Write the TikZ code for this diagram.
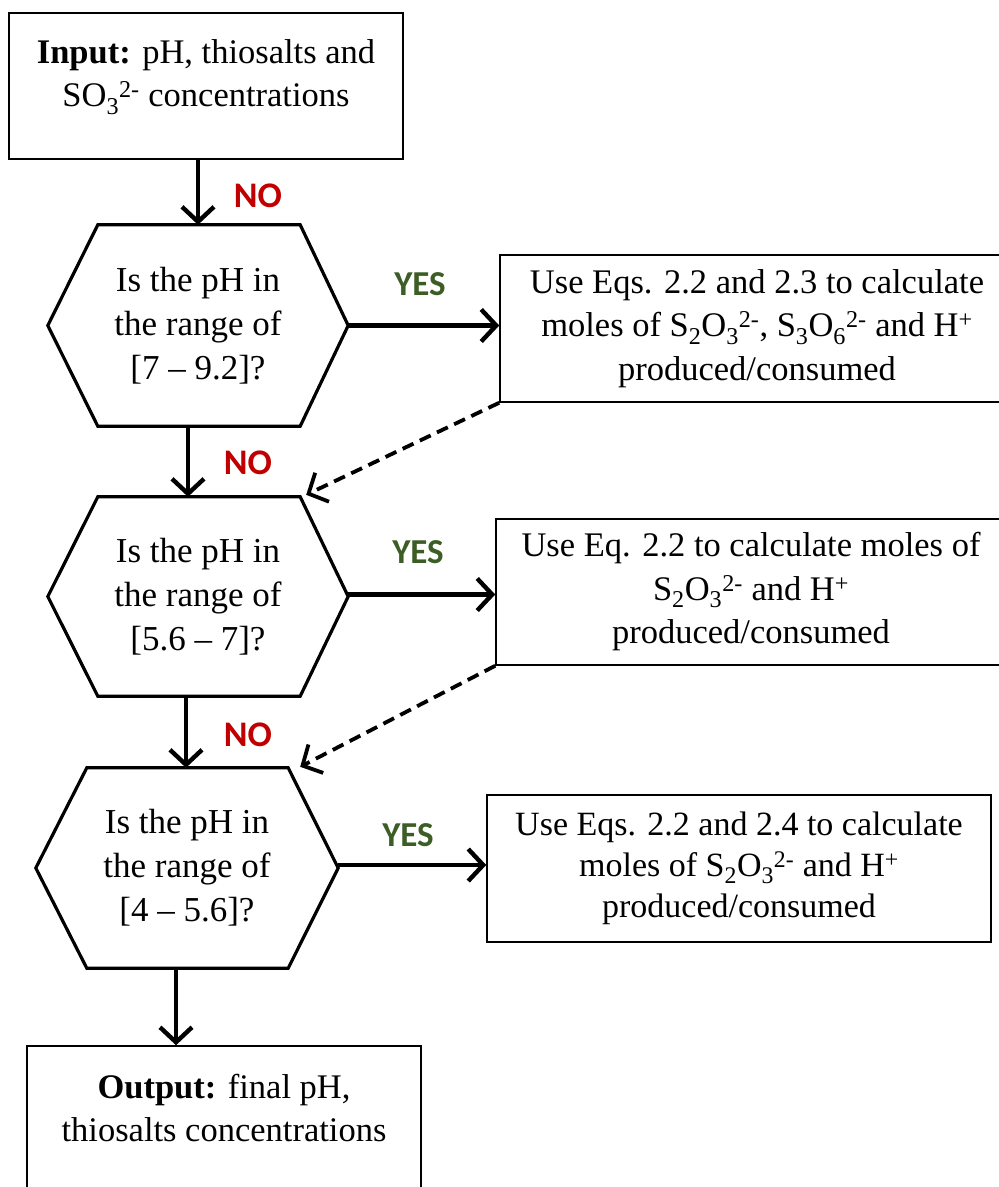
\documentclass[tikz,border=0pt]{standalone}
\usepackage{fontspec}
\setmainfont{Liberation Serif}
\newfontfamily\lblfont{Carlito}
\usetikzlibrary{arrows.meta,calc}
\definecolor{nored}{RGB}{192,0,0}
\definecolor{yesgreen}{RGB}{60,94,38}
\tikzset{
  boxnode/.style={draw=black, line width=1.5pt, inner sep=0pt},
  txt/.style={align=center, inner sep=0pt, font=\fontsize{34.5}{43.5}\selectfont},
  hexnode/.style={inner sep=0pt, align=center, font=\fontsize{35}{44}\selectfont},
  hexline/.style={draw=black, line width=3.2pt, line join=miter},
  arr/.style={line width=4.4pt, -{Straight Barb[length=15pt,width=32pt]}},
  darr/.style={line width=3.8pt, dash pattern=on 12pt off 7pt, -{Straight Barb[length=15pt,width=32pt]}},
  nolbl/.style={text=nored, font=\lblfont\bfseries\fontsize{36}{36}\selectfont},
  yeslbl/.style={text=yesgreen, font=\lblfont\bfseries\fontsize{35}{35}\selectfont}
}
\begin{document}
\begin{tikzpicture}[x=1pt,y=-1pt]
\clip (0,0) rectangle (999,1187);
\fill[white] (0,0) rectangle (999,1187);

% input / output boxes
\node[boxnode, minimum width=394pt, minimum height=146pt] (inp) at (206,86) {};
\node[txt] (inptxt) at (206,77) {\textbf{Input:} pH, thiosalts and\\SO\textsubscript{3}\textsuperscript{2-} concentrations};

\node[boxnode, minimum width=394pt, minimum height=146pt] (out) at (224,1119) {};
\node[txt] (outtxt) at (224,1108) {\textbf{Output:} final pH,\\thiosalts concentrations};

% hexagons
\node[hexnode, minimum width=300pt, minimum height=201pt] (h1) at (198,325.5) {Is the pH in\\the range of\\{[}7 – 9.2]?};
\draw[hexline] (h1.west) -- ([xshift=50pt]h1.north west) -- ([xshift=-48pt]h1.north east) -- (h1.east) -- ([xshift=-48pt]h1.south east) -- ([xshift=50pt]h1.south west) -- cycle;

\node[hexnode, minimum width=300pt, minimum height=199pt] (h2) at (198,596.5) {Is the pH in\\the range of\\{[}5.6 – 7]?};
\draw[hexline] (h2.west) -- ([xshift=50pt]h2.north west) -- ([xshift=-48pt]h2.north east) -- (h2.east) -- ([xshift=-48pt]h2.south east) -- ([xshift=50pt]h2.south west) -- cycle;

\node[hexnode, minimum width=302pt, minimum height=200pt] (h3) at (187,868) {Is the pH in\\the range of\\{[}4 – 5.6]?};
\draw[hexline] (h3.west) -- ([xshift=51pt]h3.north west) -- ([xshift=-50pt]h3.north east) -- (h3.east) -- ([xshift=-50pt]h3.south east) -- ([xshift=51pt]h3.south west) -- cycle;

% action boxes
\node[boxnode, txt, minimum width=514pt, minimum height=147pt] (b1) at (757,328.5) {Use Eqs. 2.2 and 2.3 to calculate\\moles of S\textsubscript{2}O\textsubscript{3}\textsuperscript{2-}, S\textsubscript{3}O\textsubscript{6}\textsuperscript{2-} and H\textsuperscript{+}\\produced/consumed};
\node[boxnode, txt, minimum width=510pt, minimum height=146pt] (b2) at (751,592) {Use Eq. 2.2 to calculate moles of\\S\textsubscript{2}O\textsubscript{3}\textsuperscript{2-} and H\textsuperscript{+}\\produced/consumed};
\node[boxnode, txt, minimum width=504pt, minimum height=147pt, font=\fontsize{34}{41}\selectfont] (b3) at (739,868.5) {Use Eqs. 2.2 and 2.4 to calculate\\moles of S\textsubscript{2}O\textsubscript{3}\textsuperscript{2-} and H\textsuperscript{+}\\produced/consumed};

% NO arrows
\draw[arr] (inp.south -| h1.north) -- (h1.north);
\draw[arr] ([xshift=-10pt]h1.south) -- ([xshift=-10pt]h1.south |- h2.north);
\draw[arr] ([xshift=-12pt]h2.south) -- ([xshift=-12pt]h2.south |- h3.north);
\draw[arr] ([xshift=-11pt]h3.south) -- ([xshift=-11pt]h3.south |- out.north);

\node[nolbl] (no1) at (258,196) {NO};
\node[nolbl] (no2) at (248,463) {NO};
\node[nolbl] (no3) at (248,735) {NO};

% YES arrows
\draw[arr] (h1.east) -- (h1.east -| b1.west);
\draw[arr] ([yshift=2pt]h2.east) -- ([yshift=2pt]h2.east -| b2.west);
\draw[arr] ([yshift=3pt]h3.east) -- ([yshift=3pt]h3.east -| b3.west);

\node[yeslbl] (yes1) at (420,284) {YES};
\node[yeslbl] (yes2) at (418,552) {YES};
\node[yeslbl] (yes3) at (408,835) {YES};

% dashed return arrows
\coordinate (h2tr) at ([xshift=-48pt]h2.north east);
\coordinate (h3tr) at ([xshift=-50pt]h3.north east);
\draw[darr] (b1.south west) -- ($(h2tr)+(6,-2)$);
\draw[darr] (b2.south west) -- ($(h3tr)+(12,-1)$);
\end{tikzpicture}
\end{document}
